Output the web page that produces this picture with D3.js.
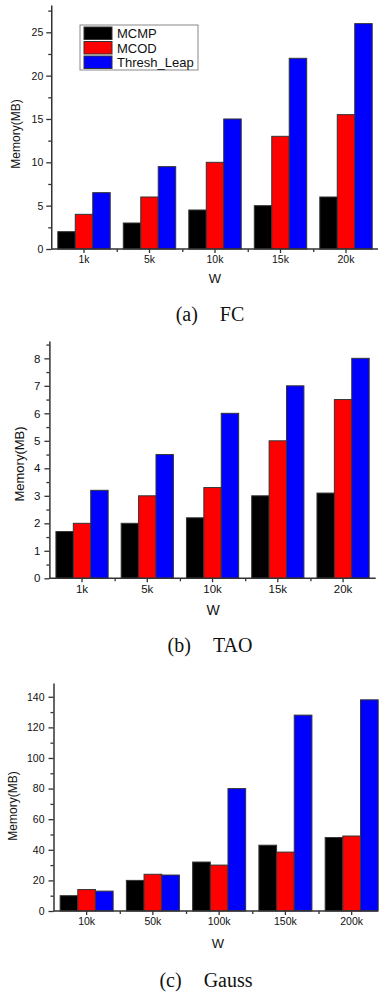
<!DOCTYPE html>
<html>
<head>
<meta charset="utf-8">
<script src="https://cdn.jsdelivr.net/npm/d3@7"></script>
<style>
  body { margin: 0; background: #fff; }
  svg { display: block; }
  .tick text { fill: #111; }
</style>
</head>
<body>
<svg id="main-svg" width="379" height="1001"></svg>
<script>
const series = ["MCMP", "MCOD", "Thresh_Leap"];
const colors = ["#000000", "#ff0000", "#0000ff"];
const sans = "'Liberation Sans', Arial, sans-serif";
const serif = "'Liberation Serif', 'Times New Roman', serif";

// (a) FC
const fcCategories = ["1k", "5k", "10k", "15k", "20k"];
const fcMCMP = [2, 3, 4.5, 5, 6];
const fcMCOD = [4, 6, 10, 13, 15.5];
const fcThresh = [6.5, 9.5, 15, 22, 26];
const fcTicks = [0, 5, 10, 15, 20, 25];

// (b) TAO
const taoCategories = ["1k", "5k", "10k", "15k", "20k"];
const taoMCMP = [1.7, 2, 2.2, 3, 3.1];
const taoMCOD = [2, 3, 3.3, 5, 6.5];
const taoThresh = [3.2, 4.5, 6, 7, 8];
const taoTicks = [0, 1, 2, 3, 4, 5, 6, 7, 8];

// (c) Gauss
const gaussCategories = ["10k", "50k", "100k", "150k", "200k"];
const gaussMCMP = [10, 20, 32, 43, 48];
const gaussMCOD = [14, 24, 30, 38.5, 49];
const gaussThresh = [13, 23.5, 80, 128, 138];
const gaussTicks = [0, 20, 40, 60, 80, 100, 120, 140];

const svg = d3.select("#main-svg");

function drawChart(opt) {
  const g = svg.append("g");
  const x = d3.scaleBand().domain(opt.categories)
    .range([opt.x0, opt.x1]).paddingInner(0.2).paddingOuter(0.1);
  const xs = d3.scaleBand().domain(series).range([0, x.bandwidth()]);
  const y = d3.scaleLinear().domain([0, opt.yMax]).range([opt.yZero, opt.yTop]);

  const rows = opt.categories.map((c, i) => ({
    cat: c,
    vals: opt.values.map((v, j) => ({ s: series[j], v: v[i], c: colors[j] }))
  }));

  const grp = g.selectAll(".grp").data(rows).enter().append("g")
    .attr("transform", d => `translate(${x(d.cat)},0)`);
  grp.selectAll("rect").data(d => d.vals).enter().append("rect")
    .attr("x", d => xs(d.s))
    .attr("y", d => y(d.v))
    .attr("width", xs.bandwidth())
    .attr("height", d => y(0) - y(d.v))
    .attr("fill", d => d.c)
    .attr("stroke", "#333")
    .attr("stroke-width", 1);

  // y axis
  const minor = [];
  for (let i = 0; i < opt.ticks.length; i++) {
    const m = opt.ticks[i] + opt.step / 2;
    if (m <= opt.yMax) minor.push(m);
  }
  g.append("g").attr("transform", `translate(${opt.x0},0)`)
    .call(d3.axisLeft(y).tickValues(minor).tickSize(3).tickFormat(""))
    .call(a => a.select(".domain").remove())
    .selectAll("line").attr("stroke", "#333").attr("stroke-width", 1.3);
  const ya = g.append("g").attr("transform", `translate(${opt.x0},0)`)
    .call(d3.axisLeft(y).tickValues(opt.ticks).tickSizeInner(5).tickSizeOuter(0).tickPadding(opt.pad));
  ya.select(".domain").attr("stroke", "#333").attr("stroke-width", 1.5);
  ya.selectAll("line").attr("stroke", "#333").attr("stroke-width", 1.3);
  ya.selectAll("text").attr("font-family", sans).attr("font-size", opt.tickFont);

  // x axis
  const bounds = opt.categories.slice(1).map(c => x(c) - x.step() * x.paddingInner() / 2);
  const xb = d3.scaleLinear().domain([opt.x0, opt.x1]).range([opt.x0, opt.x1]);
  g.append("g").attr("transform", `translate(0,${opt.yZero})`)
    .call(d3.axisBottom(xb).tickValues(bounds).tickSize(3).tickFormat(""))
    .call(a => a.select(".domain").remove())
    .selectAll("line").attr("stroke", "#333").attr("stroke-width", 1.3);
  const xa = g.append("g").attr("transform", `translate(0,${opt.yZero})`)
    .call(d3.axisBottom(x).tickSizeInner(4).tickSizeOuter(0).tickPadding(3));
  xa.select(".domain").attr("stroke", "#333").attr("stroke-width", 1.5)
    .attr("d", `M${opt.x0},0H${Math.min(opt.x1, 378)}`);
  xa.selectAll("line").attr("stroke", "#333").attr("stroke-width", 1.3);
  xa.selectAll("text").attr("font-family", sans).attr("font-size", opt.tickFont);

  // axis titles
  g.append("text")
    .attr("transform", `translate(${opt.ylabX},${opt.ylabY}) rotate(-90)`)
    .attr("text-anchor", "middle")
    .attr("font-family", sans)
    .attr("font-size", opt.labFont)
    .attr("fill", "#111")
    .text("Memory(MB)");
  g.append("text")
    .attr("x", opt.wX).attr("y", opt.wY)
    .attr("text-anchor", "middle")
    .attr("font-family", sans)
    .attr("font-size", opt.labFont + 1)
    .attr("fill", "#111")
    .text("W");

  // caption
  const cap = g.append("text")
    .attr("x", opt.capX).attr("y", opt.capY)
    .attr("text-anchor", "middle")
    .attr("font-family", serif)
    .attr("font-size", 20)
    .attr("fill", "#111");
  cap.append("tspan").text(opt.capA);
  cap.append("tspan").attr("dx", 22).text(opt.capB);
  return g;
}

const fc = drawChart({
  categories: fcCategories, values: [fcMCMP, fcMCOD, fcThresh],
  ticks: fcTicks, step: 5, yMax: 28.15,
  x0: 51.25, x1: 378.75, yZero: 249, yTop: 5,
  tickFont: 10.5, labFont: 12, pad: 3,
  ylabX: 20, ylabY: 134, wX: 215, wY: 283,
  capX: 210, capY: 321, capA: "(a)", capB: "FC"
});

// legend
const lg = fc.append("g");
lg.append("rect").attr("x", 80).attr("y", 25).attr("width", 118).attr("height", 45)
  .attr("fill", "#fff").attr("stroke", "#888").attr("stroke-width", 1);
series.forEach((s, i) => {
  lg.append("rect").attr("x", 84).attr("y", 27 + i * 14.5).attr("width", 28).attr("height", 12.5)
    .attr("fill", colors[i]).attr("stroke", "#333").attr("stroke-width", 1);
  lg.append("text").attr("x", 117).attr("y", 27 + i * 14.5 + 11)
    .attr("font-family", sans)
    .attr("font-size", 13).attr("fill", "#111").text(s);
});

drawChart({
  categories: taoCategories, values: [taoMCMP, taoMCOD, taoThresh],
  ticks: taoTicks, step: 1, yMax: 8.63,
  x0: 49.4, x1: 375.7, yZero: 578.3, yTop: 341,
  tickFont: 11.5, labFont: 13, pad: 4,
  ylabX: 24, ylabY: 464, wX: 213, wY: 615,
  capX: 210, capY: 652, capA: "(b)", capB: "TAO"
});

drawChart({
  categories: gaussCategories, values: [gaussMCMP, gaussMCOD, gaussThresh],
  ticks: gaussTicks, step: 20, yMax: 149,
  x0: 53.5, x1: 384.8, yZero: 911, yTop: 683,
  tickFont: 10.5, labFont: 12, pad: 4,
  ylabX: 17, ylabY: 806, wX: 218, wY: 948,
  capX: 206, capY: 987, capA: "(c)", capB: "Gauss"
});
</script>
</body>
</html>
